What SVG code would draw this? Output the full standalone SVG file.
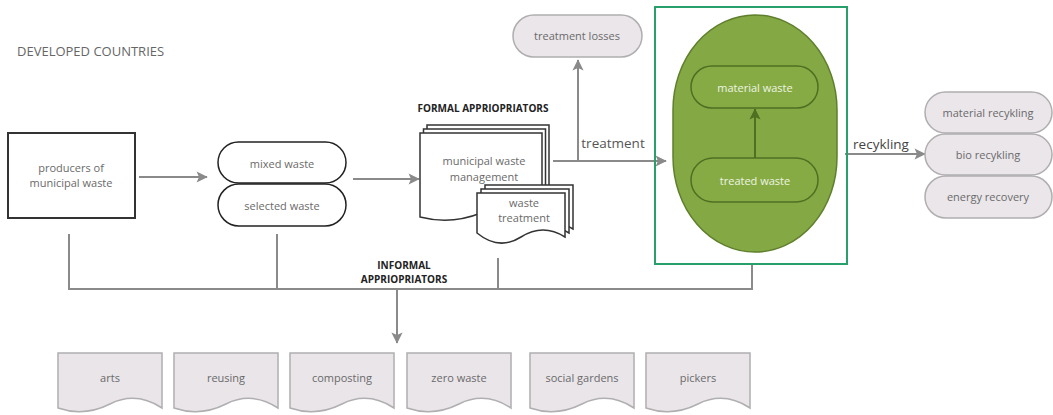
<svg xmlns="http://www.w3.org/2000/svg" xmlns:xlink="http://www.w3.org/1999/xlink" width="1053" height="415" viewBox="0 0 1053 415">
<style>
text{font-family:"Open Sans","Liberation Sans",sans-serif;text-anchor:middle}
.lbl{font-size:11px;fill:#6a6a6a}
.hdr{font-size:10px;font-weight:bold;fill:#222}
.edge{fill:none;stroke:#8a8a8a;stroke-width:2}
.gray{fill:#ebe6ea;stroke:#b0aeb0;stroke-width:1.5}
.doc{fill:#e9e5e9;stroke:#b0aeb0;stroke-width:1.5}
.wdoc{fill:#fff;stroke:#333;stroke-width:1.5}
.pill{fill:#fff;stroke:#222;stroke-width:1.5}
.gin{fill:#86ab45;stroke:#4f6f22;stroke-width:1.5}
.gtxt{font-size:11px;fill:#eef4e2}
.elab{font-size:13.5px;fill:#555}
</style>
<defs>
<marker id="ah" viewBox="0 0 10 10" refX="9" refY="5" markerWidth="8" markerHeight="8" orient="auto" markerUnits="userSpaceOnUse" overflow="visible">
<path d="M-4,-2 L10,5 L-4,12 L-1,5 Z" fill="#8a8a8a"/>
</marker>
<marker id="ahg" viewBox="0 0 10 10" refX="9" refY="5" markerWidth="8" markerHeight="8" orient="auto" markerUnits="userSpaceOnUse" overflow="visible">
<path d="M-4,-2 L10,5 L-4,12 L-1,5 Z" fill="#4f6f22"/>
</marker>
<path id="doc" d="M0,0 H104 V55 Q78,38 52,51 T0,55 Z"/>
<path id="mdoc" d="M0,0 H122 V84 Q91,68 61,80 T0,84 Z"/>
<path id="tdoc" d="M0,0 H88 V44 Q66,30 44,44 T0,40 Z"/>
</defs>

<text x="17" y="56" style="font-size:13px;fill:#666;text-anchor:start">DEVELOPED COUNTRIES</text>

<g id="connectors">
<line class="edge" x1="139" y1="177" x2="207" y2="177" marker-end="url(#ah)"/>
<line class="edge" x1="353" y1="179" x2="419" y2="179" marker-end="url(#ah)"/>
<line class="edge" x1="553" y1="161" x2="666" y2="161" marker-end="url(#ah)"/>
<line class="edge" x1="578" y1="161" x2="578" y2="60" marker-end="url(#ah)"/>
<line class="edge" x1="845" y1="154" x2="925" y2="154" marker-end="url(#ah)"/>
<line class="edge" x1="69" y1="234" x2="69" y2="289"/>
<line class="edge" x1="277" y1="234" x2="277" y2="289"/>
<line class="edge" x1="498" y1="258" x2="498" y2="289"/>
<line class="edge" x1="752" y1="264" x2="752" y2="289"/>
<line class="edge" x1="68" y1="289" x2="753" y2="289"/>
<line class="edge" x1="397" y1="289" x2="397" y2="343" marker-end="url(#ah)"/>
<text class="elab" x="613" y="148">treatment</text>
<text class="elab" x="881" y="149" style="fill:#444">recykling</text>
<text class="hdr" x="404" y="269">INFORMAL</text>
<text class="hdr" x="404" y="283">APPRIOPRIATORS</text>
</g>

<g id="producers">
<rect x="8" y="133" width="127" height="85" fill="#fff" stroke="#333" stroke-width="2"/>
<text class="lbl" x="71" y="172">producers of</text>
<text class="lbl" x="71" y="187">municipal waste</text>
</g>

<g id="mixed-waste">
<rect class="pill" x="218" y="142" width="128" height="41" rx="20.5"/>
<text class="lbl" x="282" y="168">mixed waste</text>
</g>
<g id="selected-waste">
<rect class="pill" x="218" y="184" width="128" height="42" rx="21"/>
<text class="lbl" x="282" y="210">selected waste</text>
</g>

<text class="hdr" x="483" y="112">FORMAL APPRIOPRIATORS</text>

<g id="municipal-waste-management">
<use href="#mdoc" class="wdoc" x="427" y="125"/>
<use href="#mdoc" class="wdoc" x="423.5" y="129"/>
<use href="#mdoc" class="wdoc" x="420" y="133"/>
<text class="lbl" x="484" y="165">municipal waste</text>
<text class="lbl" x="484" y="181">management</text>
</g>

<g id="waste-treatment">
<use href="#tdoc" class="wdoc" x="485" y="185"/>
<use href="#tdoc" class="wdoc" x="481" y="189"/>
<use href="#tdoc" class="wdoc" x="477" y="193"/>
<text class="lbl" x="524" y="207">waste</text>
<text class="lbl" x="524" y="222">treatment</text>
</g>

<g id="treatment-losses">
<rect class="gray" x="513" y="15" width="129" height="42" rx="21"/>
<text class="lbl" x="577" y="40">treatment losses</text>
</g>

<g id="treatment-group">
<rect x="655" y="7" width="192" height="257" fill="none" stroke="#27a06c" stroke-width="2"/>
<rect x="673" y="15" width="164" height="237" rx="82" ry="95" fill="#84a944" stroke="#5f7f2c" stroke-width="1.5"/>
<line x1="755" y1="158" x2="755" y2="109" stroke="#4f6f22" stroke-width="2" marker-end="url(#ahg)"/>
</g>
<g id="material-waste">
<rect class="gin" x="691" y="66" width="127" height="42" rx="21"/>
<text class="gtxt" x="755" y="92">material waste</text>
</g>
<g id="treated-waste">
<rect class="gin" x="691" y="158" width="127" height="44" rx="22"/>
<text class="gtxt" x="755" y="185">treated waste</text>
</g>

<g id="material-recykling">
<rect class="gray" x="925" y="92" width="127" height="41" rx="20.5"/>
<text class="lbl" x="988" y="117">material recykling</text>
</g>
<g id="bio-recykling">
<rect class="gray" x="925" y="134" width="127" height="41" rx="20.5"/>
<text class="lbl" x="988" y="159">bio recykling</text>
</g>
<g id="energy-recovery">
<rect class="gray" x="925" y="176" width="127" height="42" rx="21"/>
<text class="lbl" x="988" y="201">energy recovery</text>
</g>

<g id="arts"><use href="#doc" class="doc" x="58" y="353"/><text class="lbl" x="110" y="382">arts</text></g>
<g id="reusing"><use href="#doc" class="doc" x="174" y="353"/><text class="lbl" x="226" y="382">reusing</text></g>
<g id="composting"><use href="#doc" class="doc" x="290" y="353"/><text class="lbl" x="342" y="382">composting</text></g>
<g id="zero-waste"><use href="#doc" class="doc" x="407" y="353"/><text class="lbl" x="459" y="382">zero waste</text></g>
<g id="social-gardens"><use href="#doc" class="doc" x="530" y="353"/><text class="lbl" x="582" y="382">social gardens</text></g>
<g id="pickers"><use href="#doc" class="doc" x="646" y="353"/><text class="lbl" x="698" y="382">pickers</text></g>
</svg>
